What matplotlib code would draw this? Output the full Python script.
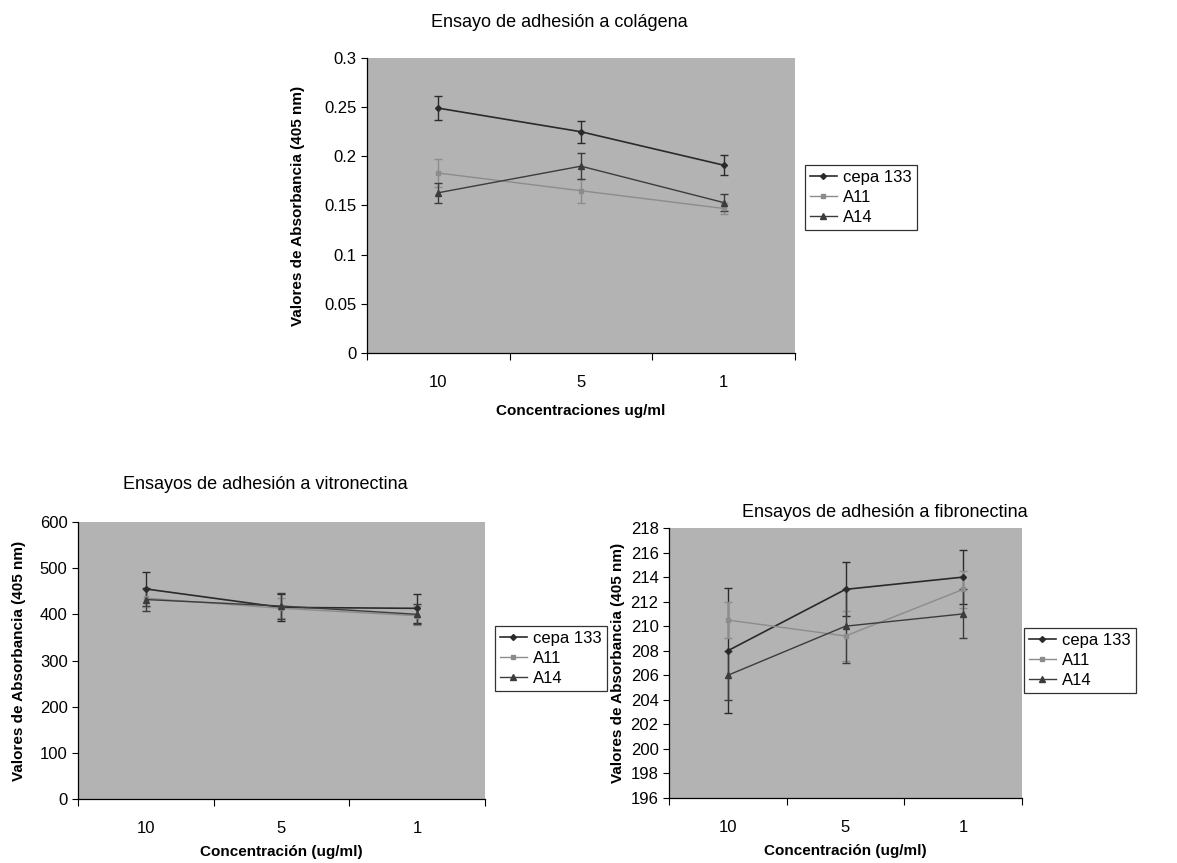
import matplotlib
matplotlib.use("Agg")
import matplotlib.pyplot as plt
from matplotlib.lines import Line2D
from matplotlib.ticker import FuncFormatter

plt.rcParams['font.family'] = ['Liberation Sans', 'DejaVu Sans']

W, H = 1177, 863

concentraciones = ["10", "5", "1"]
series = ["cepa 133", "A11", "A14"]

# ensayo colagena
col_cepa = [0.249, 0.225, 0.191]
col_cepa_err = [0.012, 0.011, 0.010]
col_a11 = [0.183, 0.165, 0.147]
col_a11_err = [0.014, 0.012, 0.006]
col_a14 = [0.163, 0.190, 0.153]
col_a14_err = [0.010, 0.013, 0.009]

# ensayo vitronectina
vit_cepa = [455, 415, 413]
vit_cepa_err = [37, 30, 32]
vit_a11 = [435, 413, 397]
vit_a11_err = [20, 22, 20]
vit_a14 = [432, 418, 400]
vit_a14_err = [25, 28, 22]

# ensayo fibronectina
fib_cepa = [208, 213, 214]
fib_cepa_err = [5.1, 2.2, 2.2]
fib_a11 = [210.5, 209.2, 213]
fib_a11_err = [1.5, 2.0, 1.5]
fib_a14 = [206, 210, 211]
fib_a14_err = [2.0, 3.0, 2.0]

estilos = {
    "cepa 133": dict(color="#2a2a2a", marker="D", ms=3, lw=1.2),
    "A11": dict(color="#8c8c8c", marker="s", ms=3.5, lw=1.0),
    "A14": dict(color="#3c3c3c", marker="^", ms=4, lw=1.0),
}


def ejes(px_left, px_right, px_top, px_bottom):
    return fig.add_axes([px_left / W, 1 - px_bottom / H,
                         (px_right - px_left) / W, (px_bottom - px_top) / H])


def dibujar(ax, datos, ylim, yticks, fmt, titulo, pad_titulo, x_titulo,
            xlabel, xlpad, leg_xy, ylpad):
    x = range(len(concentraciones))
    handles = []
    for nombre, (y, e) in zip(series, datos):
        st = estilos[nombre]
        ax.errorbar(x, y, yerr=e, color=st["color"], marker=st["marker"],
                    ms=st["ms"], lw=st["lw"], elinewidth=1.0, capsize=3,
                    capthick=1.0)
        handles.append(Line2D([], [], color=st["color"], marker=st["marker"],
                              ms=st["ms"], lw=st["lw"], label=nombre))
    ax.set_facecolor("#b3b3b3")
    ax.set_xlim(-0.5, len(concentraciones) - 0.5)
    ax.set_ylim(*ylim)
    ax.set_yticks(yticks)
    ax.yaxis.set_major_formatter(FuncFormatter(fmt))
    ax.set_xticks([i - 0.5 for i in range(len(concentraciones) + 1)])
    ax.set_xticklabels([])
    ax.set_xticks(list(x), minor=True)
    ax.set_xticklabels(concentraciones, minor=True)
    ax.tick_params(axis="x", which="major", direction="out", length=5, width=0.8)
    ax.tick_params(axis="x", which="minor", length=0, pad=16, labelsize=12)
    ax.tick_params(axis="y", direction="out", length=4, width=0.8, labelsize=12)
    for s in ["top", "right"]:
        ax.spines[s].set_visible(False)
    for s in ["left", "bottom"]:
        ax.spines[s].set_color("black")
        ax.spines[s].set_linewidth(0.9)
    ax.set_ylabel("Valores de Absorbancia (405 nm)", fontsize=11, fontweight="bold",
                  labelpad=ylpad)
    ax.set_xlabel(xlabel, fontsize=11, fontweight="bold", labelpad=xlpad)
    ax.set_title(titulo, fontsize=13, pad=pad_titulo, x=x_titulo)
    leg = ax.legend(handles=handles, loc="upper left",
                    bbox_to_anchor=(leg_xy[0] / W, 1 - leg_xy[1] / H),
                    bbox_transform=fig.transFigure, frameon=True, fancybox=False,
                    fontsize=12, handlelength=1.6, handletextpad=0.4,
                    borderpad=0.3, labelspacing=0.3, borderaxespad=0)
    leg.get_frame().set_edgecolor("black")
    leg.get_frame().set_linewidth(0.9)
    return ax


def fmt_dec(v, pos):
    return f"{v:.2f}".rstrip("0").rstrip(".")


def fmt_int(v, pos):
    return f"{v:.0f}"


fig = plt.figure(figsize=(W / 100, H / 100), dpi=100)

ax1 = ejes(367, 795, 58, 353)
dibujar(ax1, [(col_cepa, col_cepa_err), (col_a11, col_a11_err), (col_a14, col_a14_err)],
        (0, 0.3), [0, 0.05, 0.1, 0.15, 0.2, 0.25, 0.3], fmt_dec,
        "Ensayo de adhesión a colágena", 22, 0.45,
        "Concentraciones ug/ml", 10, (805, 165), 14)

ax2 = ejes(78, 485, 522, 799)
dibujar(ax2, [(vit_cepa, vit_cepa_err), (vit_a11, vit_a11_err), (vit_a14, vit_a14_err)],
        (0, 600), list(range(0, 601, 100)), fmt_int,
        "Ensayos de adhesión a vitronectina", 24, 0.46,
        "Concentración (ug/ml)", 6, (495, 626), 10)

ax3 = ejes(669, 1022, 528, 798)
dibujar(ax3, [(fib_cepa, fib_cepa_err), (fib_a11, fib_a11_err), (fib_a14, fib_a14_err)],
        (196, 218), list(range(196, 219, 2)), fmt_int,
        "Ensayos de adhesión a fibronectina", 8, 0.61,
        "Concentración (ug/ml)", 6, (1024, 628), 4)

fig.savefig("out.png", dpi=100, facecolor="white")
